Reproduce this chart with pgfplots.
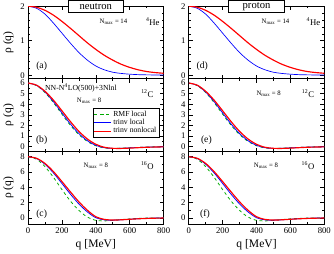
\documentclass[border=0pt]{standalone}
\usepackage{fontspec}
\setmainfont{Liberation Serif}
\usepackage{pgfplots}
\pgfplotsset{compat=1.18}
\usepgfplotslibrary{groupplots}
\definecolor{rmfgreen}{RGB}{0,170,0}

\pgfplotstableread{
q rho
0 2.00
50 1.94
100 1.77
150 1.51
200 1.22
250 0.93
300 0.66
350 0.44
400 0.27
450 0.16
500 0.09
550 0.055
600 0.033
650 0.02
700 0.014
750 0.011
800 0.009
}\heblue
\pgfplotstableread{
q rho
0 2.00
50 1.97
100 1.88
150 1.74
200 1.56
250 1.36
300 1.15
350 0.94
400 0.75
450 0.58
500 0.44
550 0.32
600 0.23
650 0.16
700 0.11
750 0.08
800 0.06
}\hered
\pgfplotstableread{
q rho
0 6.00
50 5.80
100 5.22
150 4.38
200 3.38
250 2.36
300 1.44
350 0.72
400 0.22
450 -0.06
500 -0.16
550 -0.17
600 -0.14
650 -0.10
700 -0.06
750 -0.04
800 -0.02
}\cred
\pgfplotstableread{
q rho
0 6.00
50 5.78
100 5.15
150 4.24
200 3.18
250 2.13
300 1.23
350 0.56
400 0.12
450 -0.10
500 -0.17
550 -0.16
600 -0.12
650 -0.08
700 -0.05
750 -0.03
800 -0.02
}\cblue
\pgfplotstableread{
q rho
0 6.00
50 5.76
100 5.10
150 4.15
200 3.06
250 2.01
300 1.13
350 0.49
400 0.08
450 -0.12
500 -0.17
550 -0.15
600 -0.11
650 -0.07
700 -0.04
750 -0.02
800 -0.01
}\cgreen
\pgfplotstableread{
q rho
0 8.00
50 7.80
100 7.12
150 6.05
200 4.75
250 3.40
300 2.10
350 1.00
400 0.15
450 -0.20
500 -0.28
550 -0.25
600 -0.18
650 -0.12
700 -0.07
750 -0.04
800 -0.02
}\ored
\pgfplotstableread{
q rho
0 8.00
50 7.77
100 7.02
150 5.88
200 4.50
250 3.10
300 1.82
350 0.78
400 0.02
450 -0.26
500 -0.30
550 -0.25
600 -0.18
650 -0.11
700 -0.06
750 -0.03
800 -0.02
}\oblue
\pgfplotstableread{
q rho
0 8.00
50 7.68
100 6.70
150 5.30
200 3.70
250 2.20
300 0.98
350 0.10
400 -0.32
450 -0.40
500 -0.33
550 -0.22
600 -0.13
650 -0.07
700 -0.03
750 -0.01
800 0.00
}\ogreen

\begin{document}
\begin{tikzpicture}
\begin{groupplot}[
  group style={group size=2 by 3, horizontal sep=26bp, vertical sep=0pt,
    xticklabels at=edge bottom},
  width=140bp, height=75bp, scale only axis,
  xmin=0, xmax=800, xtick={0,200,...,800}, minor x tick num=1,
  tick align=inside, major tick length=4bp, minor tick length=2bp,
  axis line style={line width=0.8bp},
  every tick/.style={black, line width=0.6bp},
  tick label style={font=\fontsize{9}{10}\selectfont},
  /pgf/number format/assume math mode=true,
  label style={font=\fontsize{12}{13}\selectfont},
  clip mode=individual,
  every axis plot/.append style={smooth},
]
% (a)
\nextgroupplot[ymin=-0.1, ymax=2, ytick={0,1,2}, minor y tick num=4, ylabel={ρ (q)}]
\addplot[blue, line width=0.7bp] table {\heblue};
\addplot[red, line width=1.2bp] table {\hered};
\node[draw, fill=white, line width=0.8bp, minimum width=56bp, minimum height=12bp, inner sep=0pt, font=\fontsize{11}{12}\selectfont] at (rel axis cs:0.5,1) {neutron};
\node[font=\fontsize{7}{8}\selectfont] at (rel axis cs:0.63,0.79) {N\textsubscript{max} = 14};
\node[font=\fontsize{9}{10}\selectfont] at (rel axis cs:0.92,0.79) {\textsuperscript{4}He};
\node[font=\fontsize{10}{11}\selectfont] at (rel axis cs:0.1,0.17) {(a)};
% (d)
\nextgroupplot[ymin=-0.1, ymax=2, ytick={0,1,2}, minor y tick num=4]
\addplot[blue, line width=0.7bp] table {\heblue};
\addplot[red, line width=1.2bp] table {\hered};
\node[draw, fill=white, line width=0.8bp, minimum width=58bp, minimum height=12bp, inner sep=0pt, font=\fontsize{11}{12}\selectfont] at (rel axis cs:0.5,1) {proton};
\node[font=\fontsize{7}{8}\selectfont] at (rel axis cs:0.64,0.79) {N\textsubscript{max} = 14};
\node[font=\fontsize{9}{10}\selectfont] at (rel axis cs:0.92,0.79) {\textsuperscript{4}He};
\node[font=\fontsize{10}{11}\selectfont] at (rel axis cs:0.1,0.17) {(d)};
% (b)
\nextgroupplot[ymin=-0.45, ymax=6.4, ytick={0,...,6}, minor y tick num=1, ylabel={ρ (q)},
  legend style={at={(rel axis cs:0.97,0.19)}, anchor=south east, font=\fontsize{8}{9}\selectfont,
    draw=black, line width=0.6bp, inner sep=1pt, row sep=-2.5pt},
  legend image post style={line width=0.9bp},
  legend image code/.code={\draw[mark repeat=2,mark phase=2] plot coordinates {(0cm,0cm) (0.3cm,0cm) (0.6cm,0cm)};},
  legend cell align=left]
\addplot[rmfgreen, dashed, line width=0.8bp] table {\cgreen};
\addlegendentry{RMF local}
\addplot[blue, line width=0.8bp] table {\cblue};
\addlegendentry{trinv local}
\addplot[red, line width=1.2bp] table {\cred};
\addlegendentry{trinv nonlocal}
\node[font=\fontsize{8}{9}\selectfont] at (rel axis cs:0.39,0.87) {NN-N\textsuperscript{4}LO(500)+3Nlnl};
\node[font=\fontsize{9}{10}\selectfont] at (rel axis cs:0.88,0.8) {\textsuperscript{12}C};
\node[font=\fontsize{7}{8}\selectfont] at (rel axis cs:0.45,0.7) {N\textsubscript{max} = 8};
\node[font=\fontsize{10}{11}\selectfont] at (rel axis cs:0.1,0.15) {(b)};
% (e)
\nextgroupplot[ymin=-0.45, ymax=6.4, ytick={0,...,6}, minor y tick num=1]
\addplot[rmfgreen, dashed, line width=0.8bp] table {\cgreen};
\addplot[blue, line width=0.8bp] table {\cblue};
\addplot[red, line width=1.2bp] table {\cred};
\node[font=\fontsize{7}{8}\selectfont] at (rel axis cs:0.59,0.8) {N\textsubscript{max} = 8};
\node[font=\fontsize{9}{10}\selectfont] at (rel axis cs:0.88,0.8) {\textsuperscript{12}C};
\node[font=\fontsize{10}{11}\selectfont] at (rel axis cs:0.13,0.15) {(e)};
% (c)
\nextgroupplot[ymin=-0.8, ymax=8.7, ytick={0,2,...,8}, minor y tick num=1, ylabel={ρ (q)}, xlabel={q [MeV]}]
\addplot[rmfgreen, dashed, line width=0.8bp] table {\ogreen};
\addplot[blue, line width=0.8bp] table {\oblue};
\addplot[red, line width=1.2bp] table {\ored};
\node[font=\fontsize{7}{8}\selectfont] at (rel axis cs:0.5,0.8) {N\textsubscript{max} = 8};
\node[font=\fontsize{9}{10}\selectfont] at (rel axis cs:0.88,0.8) {\textsuperscript{16}O};
\node[font=\fontsize{10}{11}\selectfont] at (rel axis cs:0.1,0.13) {(c)};
% (f)
\nextgroupplot[ymin=-0.8, ymax=8.7, ytick={0,2,...,8}, minor y tick num=1, xlabel={q [MeV]}]
\addplot[rmfgreen, dashed, line width=0.8bp] table {\ogreen};
\addplot[blue, line width=0.8bp] table {\oblue};
\addplot[red, line width=1.2bp] table {\ored};
\node[font=\fontsize{7}{8}\selectfont] at (rel axis cs:0.57,0.8) {N\textsubscript{max} = 8};
\node[font=\fontsize{9}{10}\selectfont] at (rel axis cs:0.88,0.8) {\textsuperscript{16}O};
\node[font=\fontsize{10}{11}\selectfont] at (rel axis cs:0.12,0.13) {(f)};
\end{groupplot}
\end{tikzpicture}
\end{document}
